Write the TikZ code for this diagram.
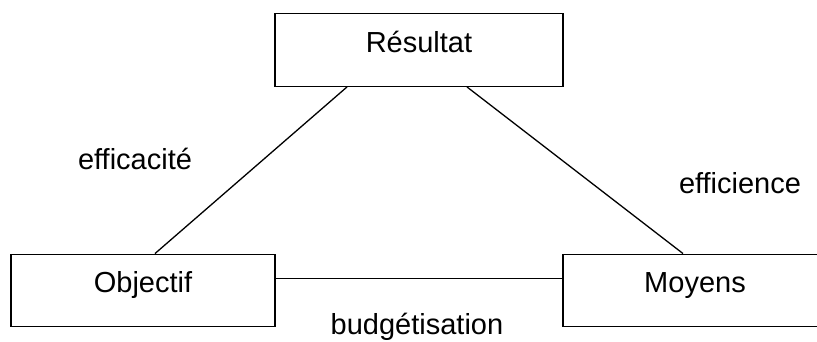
\documentclass[tikz,border=0pt]{standalone}
\usepackage{fontspec}
\setmainfont{Liberation Sans}
\usetikzlibrary{calc}
\begin{document}
\begin{tikzpicture}[x=1pt,y=-1pt,
  box/.style={draw,line width=1.4pt,inner sep=0pt,text height=38.5pt,text depth=34pt,font=\fontsize{29}{32}\selectfont},
  lbl/.style={anchor=base,inner sep=0pt,font=\fontsize{29}{32}\selectfont},
  link/.style={line width=1.3pt}]
\useasboundingbox (0,0) rectangle (817,341);
\clip (0,0) rectangle (817,341);
\node[box,minimum width=288pt] (res) at (419,50) {Résultat};
\node[box,minimum width=264pt] (obj) at (143,290.5) {Objectif};
\node[box,minimum width=264pt] (moy) at (695,290.5) {Moyens};
\draw[link] ($(res.south)+(-72,0)$) -- ($(obj.north)+(12,0)$);
\draw[link] ($(res.south)+(48,0)$) -- ($(moy.north)+(-12,0)$);
\draw[link] ($(obj.east)+(0,-12)$) -- ($(moy.west)+(0,-12)$);
\node[lbl] (eff) at (135,169.3) {efficacité};
\node[lbl] (effi) at (740,193) {efficience};
\node[lbl] (bud) at (417,334) {budgétisation};
\end{tikzpicture}
\end{document}
